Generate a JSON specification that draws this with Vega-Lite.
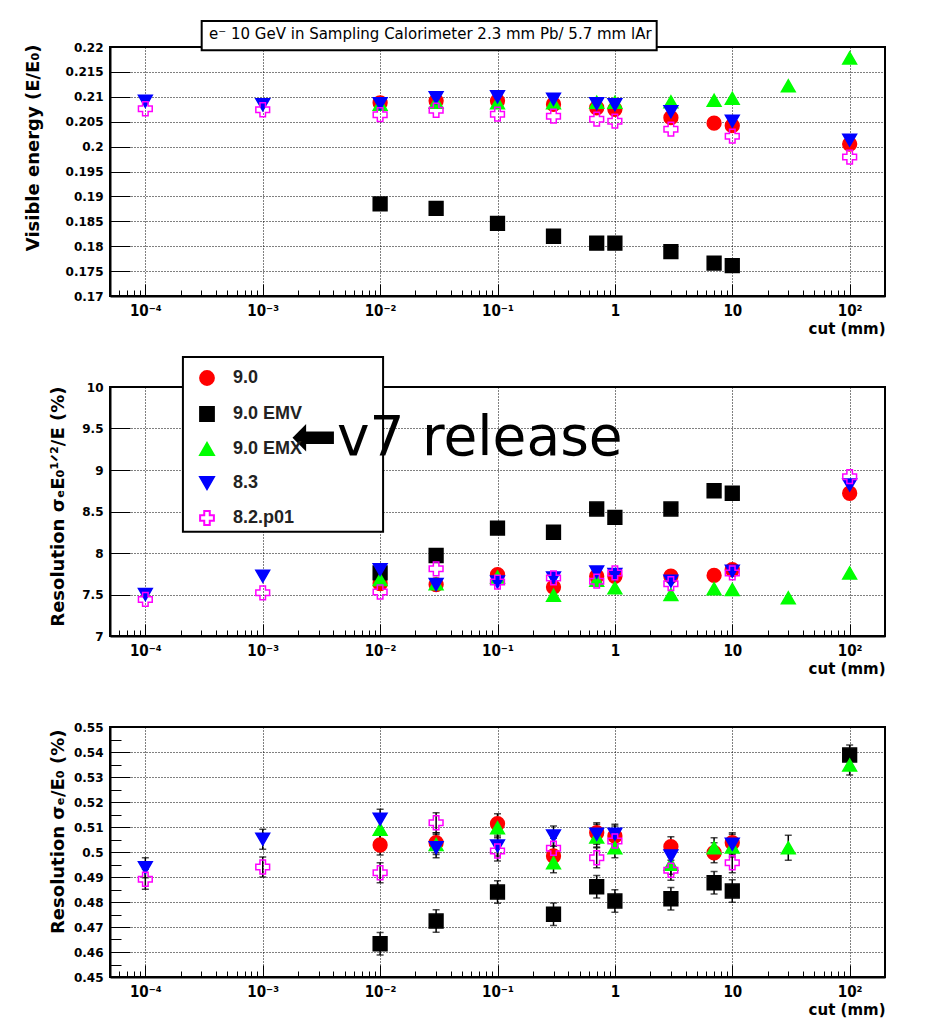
{
  "$schema": "https://vega.github.io/schema/vega-lite/v6.json",
  "background": "white",
  "padding": {"left": 22, "top": 19, "right": 5, "bottom": 5},
  "bounds": "flush",
  "spacing": 91,
  "resolve": {"legend": {"stroke": "independent", "fill": "independent", "shape": "independent"}},
  "config": {
    "font": "DejaVu Sans",
    "view": {"stroke": "black", "strokeWidth": 2},
    "axis": {
      "domainColor": "black", "domainWidth": 2, "tickColor": "black", "tickWidth": 1,
      "gridColor": "black", "gridDash": [1, 2], "gridWidth": 1, "gridOpacity": 1,
      "labelColor": "black", "titleColor": "black"
    }
  },
  "datasets": {
    "pts": [
      {"s": "9.0", "cut": 0.01, "vis": 0.2088, "res": 7.63, "res0": 0.5028, "err": 0.004},
      {"s": "9.0", "cut": 0.03, "vis": 0.2092, "res": 7.62, "res0": 0.5037, "err": 0.004},
      {"s": "9.0", "cut": 0.1, "vis": 0.2092, "res": 7.74, "res0": 0.5113, "err": 0.004},
      {"s": "9.0", "cut": 0.3, "vis": 0.2085, "res": 7.59, "res0": 0.4984, "err": 0.004},
      {"s": "9.0", "cut": 0.7, "vis": 0.2078, "res": 7.72, "res0": 0.5077, "err": 0.004},
      {"s": "9.0", "cut": 1, "vis": 0.2075, "res": 7.72, "res0": 0.5064, "err": 0.004},
      {"s": "9.0", "cut": 3, "vis": 0.2058, "res": 7.72, "res0": 0.5021, "err": 0.004},
      {"s": "9.0", "cut": 7, "vis": 0.2047, "res": 7.73, "res0": 0.4997, "err": 0.004},
      {"s": "9.0", "cut": 10, "vis": 0.2042, "res": 7.80, "res0": 0.5037, "err": 0.004},
      {"s": "9.0", "cut": 100, "vis": 0.2005, "res": 8.72, "res0": null, "err": null},
      {"s": "9.0 EMV", "cut": 0.01, "vis": 0.1885, "res": 7.76, "res0": 0.4633, "err": 0.0045},
      {"s": "9.0 EMV", "cut": 0.03, "vis": 0.1876, "res": 7.97, "res0": 0.4724, "err": 0.0045},
      {"s": "9.0 EMV", "cut": 0.1, "vis": 0.1846, "res": 8.30, "res0": 0.4840, "err": 0.0045},
      {"s": "9.0 EMV", "cut": 0.3, "vis": 0.1820, "res": 8.25, "res0": 0.4751, "err": 0.0045},
      {"s": "9.0 EMV", "cut": 0.7, "vis": 0.1806, "res": 8.53, "res0": 0.4861, "err": 0.0045},
      {"s": "9.0 EMV", "cut": 1, "vis": 0.1806, "res": 8.43, "res0": 0.4804, "err": 0.0045},
      {"s": "9.0 EMV", "cut": 3, "vis": 0.1789, "res": 8.53, "res0": 0.4813, "err": 0.0045},
      {"s": "9.0 EMV", "cut": 7, "vis": 0.1766, "res": 8.75, "res0": 0.4877, "err": 0.0045},
      {"s": "9.0 EMV", "cut": 10, "vis": 0.1761, "res": 8.72, "res0": 0.4844, "err": 0.0045},
      {"s": "9.0 EMV", "cut": 100, "vis": null, "res": null, "res0": 0.5388, "err": 0.004},
      {"s": "9.0 EMX", "cut": 0.01, "vis": 0.2085, "res": 7.68, "res0": 0.5091, "err": 0.004},
      {"s": "9.0 EMX", "cut": 0.03, "vis": 0.2089, "res": 7.63, "res0": 0.5030, "err": 0.004},
      {"s": "9.0 EMX", "cut": 0.1, "vis": 0.2088, "res": 7.71, "res0": 0.5097, "err": 0.004},
      {"s": "9.0 EMX", "cut": 0.3, "vis": 0.2088, "res": 7.49, "res0": 0.4957, "err": 0.004},
      {"s": "9.0 EMX", "cut": 0.7, "vis": 0.2089, "res": 7.67, "res0": 0.5060, "err": 0.004},
      {"s": "9.0 EMX", "cut": 1, "vis": 0.2089, "res": 7.58, "res0": 0.5017, "err": 0.004},
      {"s": "9.0 EMX", "cut": 3, "vis": 0.2090, "res": 7.50, "res0": 0.4951, "err": 0.004},
      {"s": "9.0 EMX", "cut": 7, "vis": 0.2093, "res": 7.57, "res0": 0.5017, "err": 0.004},
      {"s": "9.0 EMX", "cut": 10, "vis": 0.2097, "res": 7.56, "res0": 0.5020, "err": 0.004},
      {"s": "9.0 EMX", "cut": 30, "vis": 0.2122, "res": 7.46, "res0": 0.5017, "err": 0.005},
      {"s": "9.0 EMX", "cut": 100, "vis": 0.2178, "res": 7.76, "res0": 0.5348, "err": 0.004},
      {"s": "8.3", "cut": 0.0001, "vis": 0.2091, "res": 7.50, "res0": 0.4937, "err": 0.004},
      {"s": "8.3", "cut": 0.001, "vis": 0.2084, "res": 7.72, "res0": 0.5051, "err": 0.004},
      {"s": "8.3", "cut": 0.01, "vis": 0.2086, "res": 7.80, "res0": 0.5131, "err": 0.004},
      {"s": "8.3", "cut": 0.03, "vis": 0.2098, "res": 7.62, "res0": 0.5017, "err": 0.004},
      {"s": "8.3", "cut": 0.1, "vis": 0.2100, "res": 7.65, "res0": 0.5024, "err": 0.004},
      {"s": "8.3", "cut": 0.3, "vis": 0.2095, "res": 7.70, "res0": 0.5064, "err": 0.004},
      {"s": "8.3", "cut": 0.7, "vis": 0.2086, "res": 7.77, "res0": 0.5071, "err": 0.004},
      {"s": "8.3", "cut": 1, "vis": 0.2084, "res": 7.74, "res0": 0.5071, "err": 0.004},
      {"s": "8.3", "cut": 3, "vis": 0.2070, "res": 7.66, "res0": 0.4984, "err": 0.004},
      {"s": "8.3", "cut": 10, "vis": 0.2051, "res": 7.78, "res0": 0.5031, "err": 0.004},
      {"s": "8.3", "cut": 100, "vis": 0.2013, "res": 8.82, "res0": null, "err": null},
      {"s": "8.2.p01", "cut": 0.0001, "vis": 0.2076, "res": 7.44, "res0": 0.4891, "err": 0.004},
      {"s": "8.2.p01", "cut": 0.001, "vis": 0.2074, "res": 7.52, "res0": 0.4940, "err": 0.004},
      {"s": "8.2.p01", "cut": 0.01, "vis": 0.2064, "res": 7.53, "res0": 0.4917, "err": 0.004},
      {"s": "8.2.p01", "cut": 0.03, "vis": 0.2073, "res": 7.81, "res0": 0.5117, "err": 0.004},
      {"s": "8.2.p01", "cut": 0.1, "vis": 0.2065, "res": 7.65, "res0": 0.5004, "err": 0.004},
      {"s": "8.2.p01", "cut": 0.3, "vis": 0.2061, "res": 7.70, "res0": 0.5015, "err": 0.004},
      {"s": "8.2.p01", "cut": 0.7, "vis": 0.2055, "res": 7.66, "res0": 0.4977, "err": 0.004},
      {"s": "8.2.p01", "cut": 1, "vis": 0.2051, "res": 7.76, "res0": 0.5044, "err": 0.004},
      {"s": "8.2.p01", "cut": 3, "vis": 0.2035, "res": 7.63, "res0": 0.4927, "err": 0.004},
      {"s": "8.2.p01", "cut": 10, "vis": 0.2021, "res": 7.76, "res0": 0.4957, "err": 0.004},
      {"s": "8.2.p01", "cut": 100, "vis": 0.1979, "res": 8.92, "res0": null, "err": null}
    ]
  },
  "vconcat": [
    {
      "width": 775, "height": 249,
      "encoding": {
        "x": {"field": "cut", "type": "quantitative", "title": "cut (mm)",
          "scale": {"type": "log", "domain": [0.00005, 200], "nice": false},
          "axis": {
            "values": [0.00005,0.00006,0.00007,0.00008,0.00009,0.0001,0.0002,0.0003,0.0004,0.0005,0.0006,0.0007,0.0008,0.0009,0.001,0.002,0.003,0.004,0.005,0.006,0.007,0.008,0.009,0.01,0.02,0.03,0.04,0.05,0.06,0.07,0.08,0.09,0.1,0.2,0.3,0.4,0.5,0.6,0.7,0.8,0.9,1,2,3,4,5,6,7,8,9,10,20,30,40,50,60,70,80,90,100,200],
            "labelExpr": "datum.value == 0.0001 ? '10⁻⁴' : datum.value == 0.001 ? '10⁻³' : datum.value == 0.01 ? '10⁻²' : datum.value == 0.1 ? '10⁻¹' : datum.value == 1 ? '1' : datum.value == 10 ? '10' : datum.value == 100 ? '10²' : ''",
            "labelOverlap": false, "labelBound": false, "labelFlush": false,
            "labelFont": "'DejaVu Sans Condensed', 'DejaVu Sans', sans-serif", "labelFontSize": 15, "labelFontWeight": "bold",
            "labelPadding": 19,
            "tickSize": {"condition": {"test": "indexof([0.0001,0.001,0.01,0.1,1,10,100], datum.value) >= 0", "value": -12}, "value": -6},
            "gridOpacity": {"condition": {"test": "indexof([0.0001,0.001,0.01,0.1,1,10,100], datum.value) >= 0", "value": 1}, "value": 0},
            "titleFont": "DejaVu Sans", "titleFontSize": 15, "titleFontWeight": "bold",
            "titleAlign": "right", "titleBaseline": "alphabetic", "titleX": 775, "titleY": 37, "titleAngle": 0
          }},
        "y": {"field": "vis", "type": "quantitative", "title": "Visible energy (E/E₀)",
          "scale": {"domain": [0.17, 0.22], "nice": false, "zero": false},
          "axis": {
            "values": [0.17,0.175,0.18,0.185,0.19,0.195,0.2,0.205,0.21,0.215,0.22],
            "format": "~g", "labelFont": "DejaVu Sans", "labelFontSize": 12, "labelFontWeight": "bold",
            "labelPadding": 27, "tickSize": -20, "labelOverlap": false, "labelBound": false, "labelFlush": false,
            "titleFont": "DejaVu Sans", "titleFontSize": 18, "titleFontWeight": "bold",
            "titleAngle": -90, "titleAlign": "right", "titleBaseline": "alphabetic", "titleX": -72, "titleY": -3
          }}
      },
      "layer": [
        {
          "data": {"name": "pts"},
          "mark": {"type": "point", "filled": false, "size": 190, "strokeWidth": 1.5, "opacity": 1},
          "encoding": {
            "stroke": {"field": "s", "type": "nominal", "legend": null,
              "scale": {"domain": ["9.0", "9.0 EMV", "9.0 EMX", "8.3", "8.2.p01"], "range": ["#ff0000", "#000000", "#00ff00", "#0000ff", "#ff00ff"]}},
            "fill": {"field": "s", "type": "nominal", "legend": null,
              "scale": {"domain": ["9.0", "9.0 EMV", "9.0 EMX", "8.3", "8.2.p01"], "range": ["#ff0000", "#000000", "#00ff00", "#0000ff", "transparent"]}},
            "shape": {"field": "s", "type": "nominal", "legend": null,
              "scale": {"domain": ["9.0", "9.0 EMV", "9.0 EMX", "8.3", "8.2.p01"], "range": ["circle", "square", "triangle-up", "triangle-down", "cross"]}}
          }
        },
        {
          "data": {"values": [{"cut": 0.000302, "cut2": 2.27, "vis": 0.21934, "vis2": 0.2252}]},
          "mark": {"type": "rect", "fill": "white", "stroke": "black", "strokeWidth": 2},
          "encoding": {"x2": {"field": "cut2"}, "y2": {"field": "vis2"}}
        },
        {
          "data": {"values": [{"cut": 0.000349, "vis": 0.22155, "t": "e⁻ 10 GeV in Sampling Calorimeter 2.3 mm Pb/ 5.7 mm lAr"}]},
          "mark": {"type": "text", "align": "left", "baseline": "alphabetic", "font": "DejaVu Sans", "fontSize": 15, "color": "black"},
          "encoding": {"text": {"field": "t"}}
        }
      ]
    },
    {
      "width": 775, "height": 249,
      "encoding": {
        "x": {"field": "cut", "type": "quantitative", "title": "cut (mm)",
          "scale": {"type": "log", "domain": [0.00005, 200], "nice": false},
          "axis": {
            "values": [0.00005,0.00006,0.00007,0.00008,0.00009,0.0001,0.0002,0.0003,0.0004,0.0005,0.0006,0.0007,0.0008,0.0009,0.001,0.002,0.003,0.004,0.005,0.006,0.007,0.008,0.009,0.01,0.02,0.03,0.04,0.05,0.06,0.07,0.08,0.09,0.1,0.2,0.3,0.4,0.5,0.6,0.7,0.8,0.9,1,2,3,4,5,6,7,8,9,10,20,30,40,50,60,70,80,90,100,200],
            "labelExpr": "datum.value == 0.0001 ? '10⁻⁴' : datum.value == 0.001 ? '10⁻³' : datum.value == 0.01 ? '10⁻²' : datum.value == 0.1 ? '10⁻¹' : datum.value == 1 ? '1' : datum.value == 10 ? '10' : datum.value == 100 ? '10²' : ''",
            "labelOverlap": false, "labelBound": false, "labelFlush": false,
            "labelFont": "'DejaVu Sans Condensed', 'DejaVu Sans', sans-serif", "labelFontSize": 15, "labelFontWeight": "bold",
            "labelPadding": 19,
            "tickSize": {"condition": {"test": "indexof([0.0001,0.001,0.01,0.1,1,10,100], datum.value) >= 0", "value": -12}, "value": -6},
            "gridOpacity": {"condition": {"test": "indexof([0.0001,0.001,0.01,0.1,1,10,100], datum.value) >= 0", "value": 1}, "value": 0},
            "titleFont": "DejaVu Sans", "titleFontSize": 15, "titleFontWeight": "bold",
            "titleAlign": "right", "titleBaseline": "alphabetic", "titleX": 775, "titleY": 37, "titleAngle": 0
          }},
        "y": {"field": "res", "type": "quantitative", "title": "Resolution σₑE₀¹ᐟ²/E (%)",
          "scale": {"domain": [7, 10], "nice": false, "zero": false},
          "axis": {
            "values": [7,7.5,8,8.5,9,9.5,10],
            "format": "~g", "labelFont": "DejaVu Sans", "labelFontSize": 12, "labelFontWeight": "bold",
            "labelPadding": 27, "tickSize": -20, "labelOverlap": false, "labelBound": false, "labelFlush": false,
            "titleFont": "DejaVu Sans", "titleFontSize": 18, "titleFontWeight": "bold",
            "titleAngle": -90, "titleAlign": "right", "titleBaseline": "alphabetic", "titleX": -47, "titleY": -1
          }}
      },
      "layer": [
        {
          "data": {"values": [{"cut": 0.000209, "cut2": 0.0106, "res": 8.256, "res2": 10.36}]},
          "mark": {"type": "rect", "fill": "white", "stroke": "black", "strokeWidth": 2},
          "encoding": {"x2": {"field": "cut2"}, "y2": {"field": "res2"}}
        },
        {
          "data": {"name": "pts"},
          "mark": {"type": "point", "filled": false, "size": 190, "strokeWidth": 1.5, "opacity": 1},
          "encoding": {
            "stroke": {"field": "s", "type": "nominal",
              "scale": {"domain": ["9.0", "9.0 EMV", "9.0 EMX", "8.3", "8.2.p01"], "range": ["#ff0000", "#000000", "#00ff00", "#0000ff", "#ff00ff"]},
              "legend": {"title": null, "orient": "none", "legendX": 88, "legendY": -18, "padding": 0,
                "symbolSize": 190, "symbolStrokeWidth": 2, "labelFont": "Liberation Sans", "labelFontSize": 18,
                "labelFontWeight": "bold", "labelColor": "#222222", "labelOffset": 17, "rowPadding": 14}},
            "fill": {"field": "s", "type": "nominal",
              "scale": {"domain": ["9.0", "9.0 EMV", "9.0 EMX", "8.3", "8.2.p01"], "range": ["#ff0000", "#000000", "#00ff00", "#0000ff", "transparent"]},
              "legend": {"title": null, "orient": "none", "legendX": 88, "legendY": -18, "padding": 0,
                "symbolSize": 190, "symbolStrokeWidth": 2, "labelFont": "Liberation Sans", "labelFontSize": 18,
                "labelFontWeight": "bold", "labelColor": "#222222", "labelOffset": 17, "rowPadding": 14}},
            "shape": {"field": "s", "type": "nominal",
              "scale": {"domain": ["9.0", "9.0 EMV", "9.0 EMX", "8.3", "8.2.p01"], "range": ["circle", "square", "triangle-up", "triangle-down", "cross"]},
              "legend": {"title": null, "orient": "none", "legendX": 88, "legendY": -18, "padding": 0,
                "symbolSize": 190, "symbolStrokeWidth": 2, "labelFont": "Liberation Sans", "labelFontSize": 18,
                "labelFontWeight": "bold", "labelColor": "#222222", "labelOffset": 17, "rowPadding": 14}}
          }
        },
        {
          "data": {"values": [{"cut": 0.00174, "res": 9.18, "t": "⬅v7 release"}]},
          "mark": {"type": "text", "align": "left", "baseline": "alphabetic", "font": "DejaVu Sans", "fontSize": 55, "color": "black"},
          "encoding": {"text": {"field": "t"}}
        }
      ]
    },
    {
      "width": 775, "height": 250,
      "encoding": {
        "x": {"field": "cut", "type": "quantitative", "title": "cut (mm)",
          "scale": {"type": "log", "domain": [0.00005, 200], "nice": false},
          "axis": {
            "values": [0.00005,0.00006,0.00007,0.00008,0.00009,0.0001,0.0002,0.0003,0.0004,0.0005,0.0006,0.0007,0.0008,0.0009,0.001,0.002,0.003,0.004,0.005,0.006,0.007,0.008,0.009,0.01,0.02,0.03,0.04,0.05,0.06,0.07,0.08,0.09,0.1,0.2,0.3,0.4,0.5,0.6,0.7,0.8,0.9,1,2,3,4,5,6,7,8,9,10,20,30,40,50,60,70,80,90,100,200],
            "labelExpr": "datum.value == 0.0001 ? '10⁻⁴' : datum.value == 0.001 ? '10⁻³' : datum.value == 0.01 ? '10⁻²' : datum.value == 0.1 ? '10⁻¹' : datum.value == 1 ? '1' : datum.value == 10 ? '10' : datum.value == 100 ? '10²' : ''",
            "labelOverlap": false, "labelBound": false, "labelFlush": false,
            "labelFont": "'DejaVu Sans Condensed', 'DejaVu Sans', sans-serif", "labelFontSize": 15, "labelFontWeight": "bold",
            "labelPadding": 19,
            "tickSize": {"condition": {"test": "indexof([0.0001,0.001,0.01,0.1,1,10,100], datum.value) >= 0", "value": -12}, "value": -6},
            "gridOpacity": {"condition": {"test": "indexof([0.0001,0.001,0.01,0.1,1,10,100], datum.value) >= 0", "value": 1}, "value": 0},
            "titleFont": "DejaVu Sans", "titleFontSize": 15, "titleFontWeight": "bold",
            "titleAlign": "right", "titleBaseline": "alphabetic", "titleX": 775, "titleY": 37, "titleAngle": 0
          }},
        "y": {"field": "res0", "type": "quantitative", "title": "Resolution σₑ/E₀ (%)",
          "scale": {"domain": [0.45, 0.55], "nice": false, "zero": false},
          "axis": {
            "values": [0.45,0.455,0.46,0.465,0.47,0.475,0.48,0.485,0.49,0.495,0.5,0.505,0.51,0.515,0.52,0.525,0.53,0.535,0.54,0.545,0.55],
            "labelExpr": "indexof([0.45,0.46,0.47,0.48,0.49,0.5,0.51,0.52,0.53,0.54,0.55], datum.value) >= 0 ? format(datum.value, '~g') : ''",
            "labelFont": "DejaVu Sans", "labelFontSize": 12, "labelFontWeight": "bold",
            "labelPadding": 27, "labelOverlap": false, "labelBound": false, "labelFlush": false,
            "tickSize": {"condition": {"test": "indexof([0.45,0.46,0.47,0.48,0.49,0.5,0.51,0.52,0.53,0.54,0.55], datum.value) >= 0", "value": -20}, "value": -11},
            "gridOpacity": {"condition": {"test": "indexof([0.45,0.46,0.47,0.48,0.49,0.5,0.51,0.52,0.53,0.54,0.55], datum.value) >= 0", "value": 1}, "value": 0},
            "titleFont": "DejaVu Sans", "titleFontSize": 18, "titleFontWeight": "bold",
            "titleAngle": -90, "titleAlign": "right", "titleBaseline": "alphabetic", "titleX": -47, "titleY": 2
          }}
      },
      "layer": [
        {
          "data": {"name": "pts"},
          "transform": [{"filter": "datum.res0 != null"}],
          "mark": {"type": "errorbar", "ticks": true, "color": "black", "thickness": 1.5, "size": 7},
          "encoding": {"yError": {"field": "err"}}
        },
        {
          "data": {"name": "pts"},
          "mark": {"type": "point", "filled": false, "size": 190, "strokeWidth": 1.5, "opacity": 1},
          "encoding": {
            "stroke": {"field": "s", "type": "nominal", "legend": null,
              "scale": {"domain": ["9.0", "9.0 EMV", "9.0 EMX", "8.3", "8.2.p01"], "range": ["#ff0000", "#000000", "#00ff00", "#0000ff", "#ff00ff"]}},
            "fill": {"field": "s", "type": "nominal", "legend": null,
              "scale": {"domain": ["9.0", "9.0 EMV", "9.0 EMX", "8.3", "8.2.p01"], "range": ["#ff0000", "#000000", "#00ff00", "#0000ff", "transparent"]}},
            "shape": {"field": "s", "type": "nominal", "legend": null,
              "scale": {"domain": ["9.0", "9.0 EMV", "9.0 EMX", "8.3", "8.2.p01"], "range": ["circle", "square", "triangle-up", "triangle-down", "cross"]}}
          }
        }
      ]
    }
  ]
}
